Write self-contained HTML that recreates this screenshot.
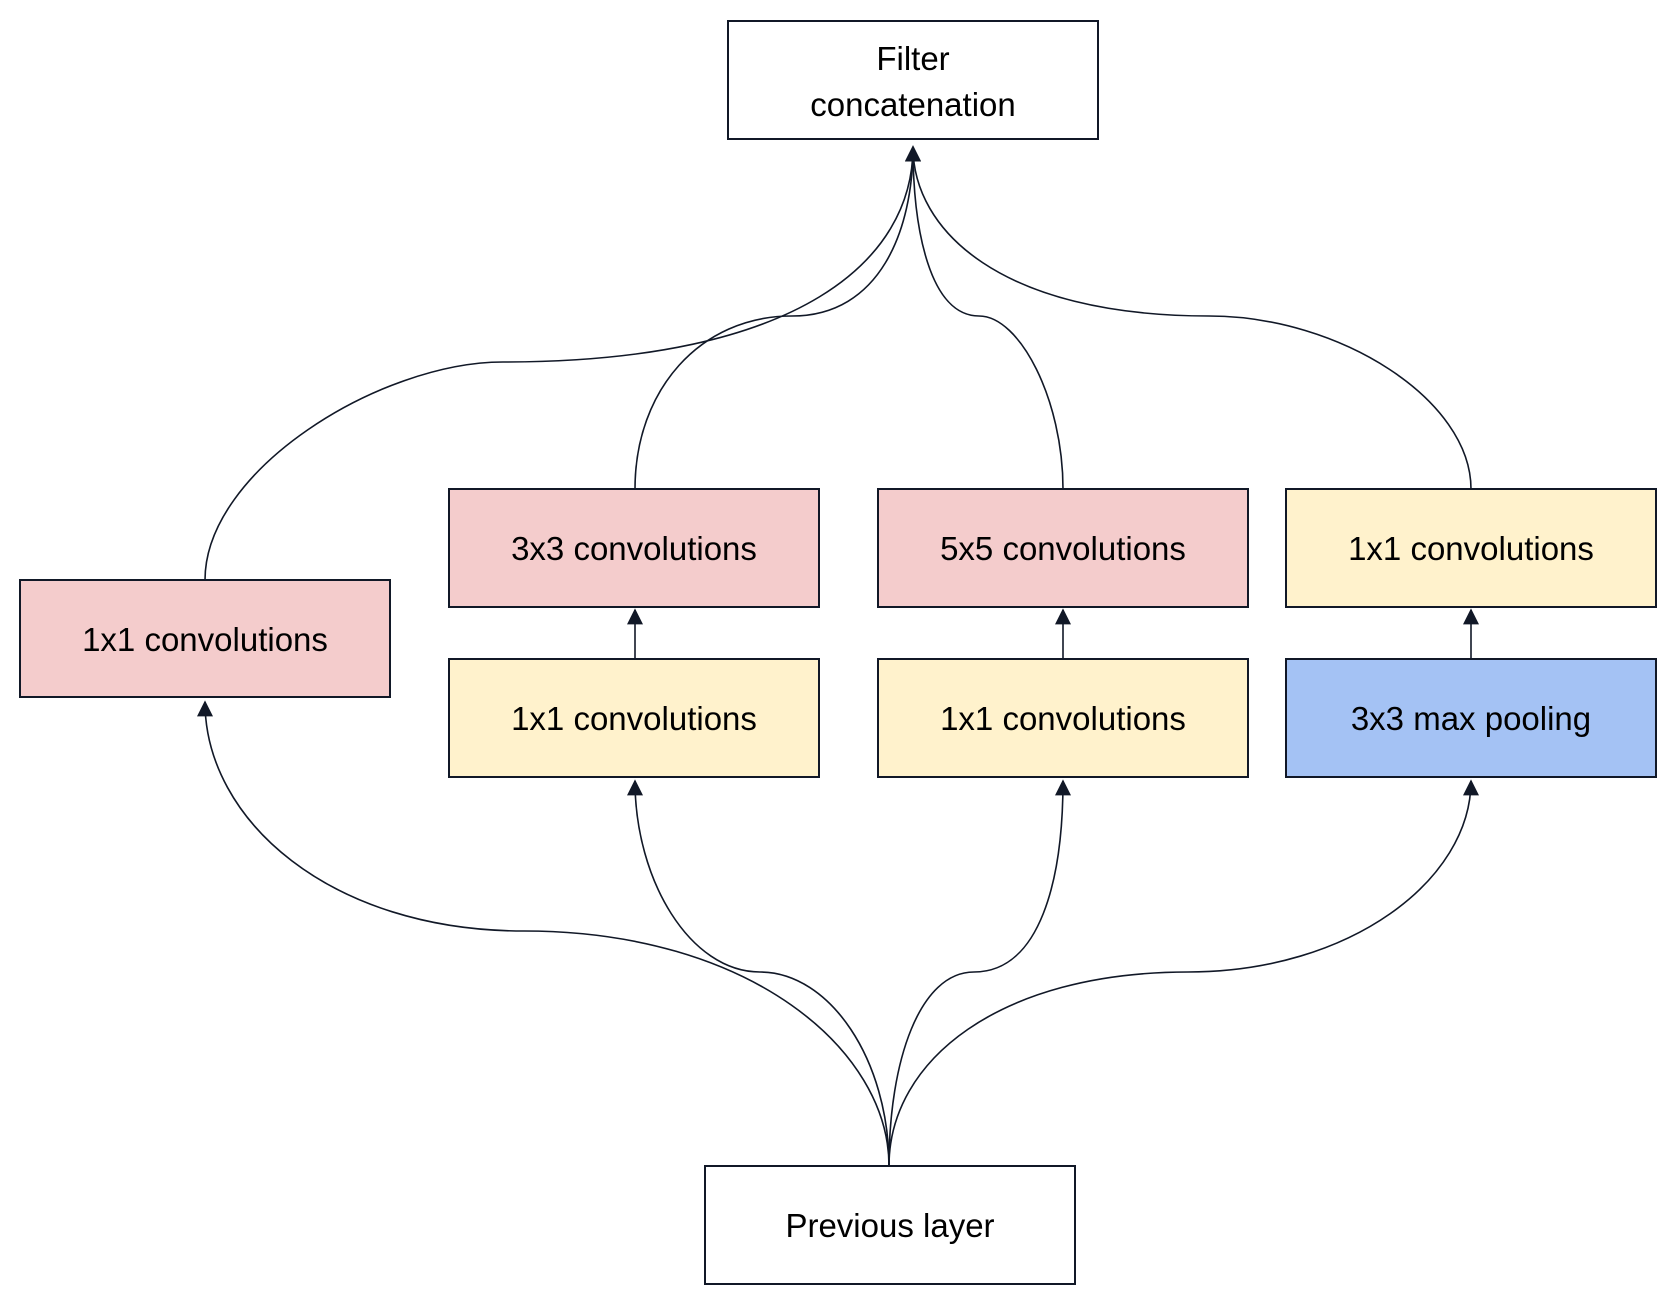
<!DOCTYPE html>
<html><head><meta charset="utf-8"><style>
html,body{margin:0;padding:0;background:#fff}
svg{display:block}
text{font-family:"Liberation Sans",Arial,sans-serif;font-size:33px;fill:#000}
</style></head><body>
<svg width="1677" height="1310" viewBox="0 0 1677 1310" xmlns="http://www.w3.org/2000/svg">
<defs>
<marker id="a" viewBox="0 0 10 10" refX="9" refY="5" markerWidth="16" markerHeight="16" markerUnits="userSpaceOnUse" orient="auto">
<path d="M0,0 L10,5 L0,10 z" fill="#111827"/>
</marker>
</defs>
<g fill="none" stroke="#111827" stroke-width="1.6">
<path d="M205,580 C205,470 380,362 503,362 C800,362 913,260 913,147" marker-end="url(#a)"/>
<path d="M635,489 C635,390 700,316 792,316 C880,316 913,230 913,147" marker-end="url(#a)"/>
<path d="M1063,489 C1063,400 1020,316 979,316 C930,316 913,230 913,147" marker-end="url(#a)"/>
<path d="M1471,489 C1471,400 1340,316 1209,316 C1000,316 913,230 913,147" marker-end="url(#a)"/>
<path d="M889,1166 C889,1050 750,931 524,931 C330,931 205,820 205,702" marker-end="url(#a)"/>
<path d="M889,1166 C889,1060 830,972 760,972 C690,972 635,880 635,781" marker-end="url(#a)"/>
<path d="M889,1166 C889,1060 920,972 974,972 C1040,972 1063,880 1063,781" marker-end="url(#a)"/>
<path d="M889,1166 C889,1060 1000,972 1188,972 C1350,972 1471,880 1471,781" marker-end="url(#a)"/>
<path d="M635,659 L635,610" marker-end="url(#a)"/>
<path d="M1063,659 L1063,610" marker-end="url(#a)"/>
<path d="M1471,659 L1471,610" marker-end="url(#a)"/>
</g>
<g stroke="#111827" stroke-width="2">
<rect x="728" y="21" width="370" height="118" fill="#fff"/>
<rect x="20" y="580" width="370" height="117" fill="#f4cccc"/>
<rect x="449" y="489" width="370" height="118" fill="#f4cccc"/>
<rect x="878" y="489" width="370" height="118" fill="#f4cccc"/>
<rect x="1286" y="489" width="370" height="118" fill="#fff2cc"/>
<rect x="449" y="659" width="370" height="118" fill="#fff2cc"/>
<rect x="878" y="659" width="370" height="118" fill="#fff2cc"/>
<rect x="1286" y="659" width="370" height="118" fill="#a4c2f4"/>
<rect x="705" y="1166" width="370" height="118" fill="#fff"/>
</g>
<g text-anchor="middle">
<text x="913" y="70">Filter</text>
<text x="913" y="116">concatenation</text>
<text x="205" y="651">1x1 convolutions</text>
<text x="634" y="560">3x3 convolutions</text>
<text x="1063" y="560">5x5 convolutions</text>
<text x="1471" y="560">1x1 convolutions</text>
<text x="634" y="730">1x1 convolutions</text>
<text x="1063" y="730">1x1 convolutions</text>
<text x="1471" y="730">3x3 max pooling</text>
<text x="890" y="1237">Previous layer</text>
</g>
</svg>
</body></html>
